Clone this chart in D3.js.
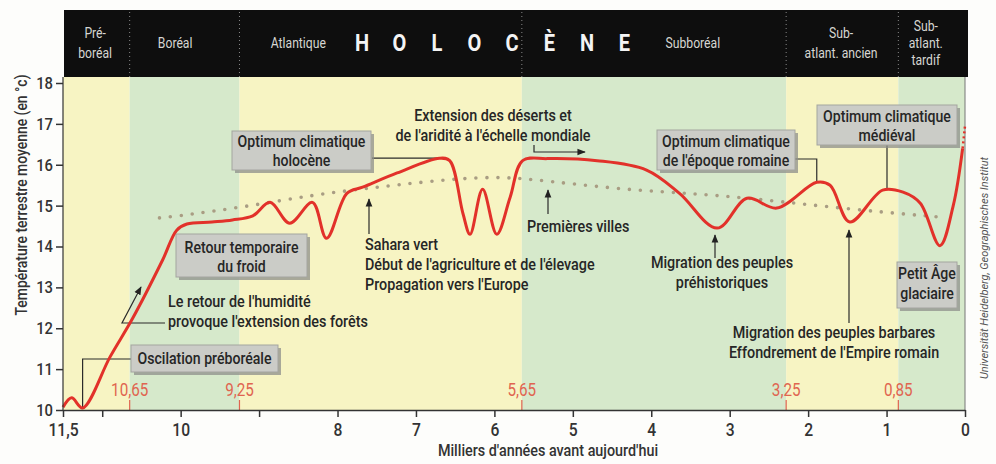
<!DOCTYPE html>
<html>
<head>
<meta charset="utf-8">
<script src="https://cdn.jsdelivr.net/npm/d3@7"></script>
<style>
  body { margin: 0; background: #fdfdfb; }
  text { font-family: 'Roboto', sans-serif; }
</style>
</head>
<body>
<script>
// temperature curve (thousand years BP / °C)
const years = [11.5, 11.39, 11.25, 10.9, 10.61, 10.23, 10.05, 9.92, 9.6, 9.34, 9.08, 8.86, 8.61, 8.32, 8.14, 7.88, 7.68, 7.24, 6.70, 6.57, 6.40, 6.31, 6.15, 5.97, 5.80, 5.64, 5.33, 4.69, 4.06, 3.64, 3.16, 2.78, 2.40, 1.89, 1.72, 1.47, 1.05, 0.79, 0.57, 0.32, 0.15, 0.03]
const temps = [10.07, 10.3, 10.05, 11.3, 12.25, 13.67, 14.4, 14.55, 14.6, 14.65, 14.75, 15.08, 14.57, 15.08, 14.2, 15.3, 15.45, 15.8, 16.16, 16.1, 14.8, 14.3, 15.4, 14.3, 15.2, 16.1, 16.15, 16.1, 15.87, 15.3, 14.45, 15.18, 14.94, 15.57, 15.5, 14.6, 15.38, 15.33, 15.06, 14.02, 15.0, 16.4]
// dotted extension to today
const endYears = [0.03, 0]
const endTemps = [16.4, 16.95]

// long term trend (dotted)
const trendYears = [10.27, 10.05, 9.08, 8.32, 7.59, 6.82, 5.97, 5.33, 4.27, 3.5, 2.74, 1.89, 1.05, 0.32]
const trendTemps = [14.7, 14.74, 15.0, 15.26, 15.43, 15.6, 15.73, 15.6, 15.38, 15.3, 15.18, 15.0, 14.84, 14.72]

// chronozones
const phaseBounds = [11.5, 10.65, 9.25, 5.65, 2.28, 0.85, 0]
const phaseNames = [["Pré-", "boréal"], ["Boréal"], ["Atlantique"], ["Subboréal"], ["Sub-", "atlant. ancien"], ["Sub-", "atlant.", "tardif"]]
const phaseLabelAt = [11.09, 10.07, 8.5, 3.47, 1.58, 0.5]
const boundLabels = ["10,65", "9,25", "5,65", "3,25", "0,85"]

// axes
const xTicks = [11.5, 11, 10, 9, 8, 7, 6, 5, 4, 3, 2, 1, 0]
const xTickLabels = ["11,5", "", "10", "", "8", "7", "6", "5", "4", "3", "2", "1", "0"]
const yTicks = [10, 11, 12, 13, 14, 15, 16, 17, 18]

const W = 996, H = 464
const SX = 0.87   // condensed look
const svg = d3.select("body").append("svg").attr("width", W).attr("height", H)

const x = d3.scaleLinear().domain([11.5, 0]).range([63, 965])
const y = d3.scaleLinear().domain([10, 18]).range([410, 83])
const plotTop = 77

// arrow marker
svg.append("defs").append("marker")
    .attr("id", "arr").attr("viewBox", "0 0 10 10")
    .attr("refX", 9).attr("refY", 5)
    .attr("markerWidth", 7).attr("markerHeight", 7)
    .attr("orient", "auto-start-reverse")
    .append("path").attr("d", "M0,1 L10,5 L0,9 Z").attr("fill", "#222")

// background bands
const bandColors = ["#f7f4c3", "#d6e9cb"]
svg.selectAll(".band")
    .data(phaseNames)
    .enter().append("rect")
    .attr("x", (d, i) => x(phaseBounds[i]))
    .attr("width", (d, i) => x(phaseBounds[i + 1]) - x(phaseBounds[i]))
    .attr("y", plotTop)
    .attr("height", y(10) - plotTop)
    .attr("fill", (d, i) => bandColors[i % 2])

// header
svg.append("rect").attr("x", 64).attr("y", 10).attr("width", 904).attr("height", plotTop - 10).attr("fill", "#0e0e0e")
svg.selectAll(".sep")
    .data(phaseBounds.slice(1, -1))
    .enter().append("line")
    .attr("x1", d => x(d)).attr("x2", d => x(d))
    .attr("y1", 12).attr("y2", plotTop)
    .attr("stroke", "#888").attr("stroke-dasharray", "1,3")

phaseNames.forEach((lines, i) => {
    const n = lines.length
    const lh = n == 3 ? 17 : 20
    lines.forEach((l, j) => {
        svg.append("text")
            .attr("x", x(phaseLabelAt[i]))
            .attr("y", 48 + (j - (n - 1) / 2) * lh)
            .attr("text-anchor", "middle")
            .attr("font-size", 14)
            .attr("fill", "#d6d6d2")
            .text(l)
    })
})

"HOLOCÈNE".split("").forEach((c, i) => {
    svg.append("text")
        .attr("x", 362 + i * 37.5).attr("y", 51)
        .attr("text-anchor", "middle")
        .attr("font-size", 23).attr("font-weight", "bold")
        .attr("fill", "#f4f4f4")
        .text(c)
})

// right border
svg.append("line").attr("x1", x(0)).attr("x2", x(0)).attr("y1", plotTop).attr("y2", y(10))
    .attr("stroke", "#777").attr("stroke-width", 1)

// trend
svg.append("path")
    .datum(trendYears.map((d, i) => [d, trendTemps[i]]))
    .attr("d", d3.line().x(d => x(d[0])).y(d => y(d[1])).curve(d3.curveBasis))
    .attr("fill", "none")
    .attr("stroke", "#a99d83")
    .attr("stroke-width", 3.6)
    .attr("stroke-linecap", "round")
    .attr("stroke-dasharray", "0,11")

// boundary markers
svg.selectAll(".bl")
    .data(boundLabels)
    .enter().append("text")
    .attr("x", (d, i) => x(phaseBounds[i + 1]))
    .attr("y", 396)
    .attr("text-anchor", "middle")
    .attr("font-size", 17.5)
    .attr("fill", "#e06450")
    .text(d => d)
svg.selectAll(".bt")
    .data(boundLabels)
    .enter().append("line")
    .attr("x1", (d, i) => x(phaseBounds[i + 1])).attr("x2", (d, i) => x(phaseBounds[i + 1]))
    .attr("y1", 400).attr("y2", 410)
    .attr("stroke", "#e06450").attr("stroke-width", 1.2)

// annotations --------------------------------------------------------------
function box(x0, y0, w, h, lines, baselines) {
    svg.append("rect").attr("x", x0 + 3).attr("y", y0 + 3).attr("width", w).attr("height", h).attr("fill", "#8e8f8b").attr("opacity", 0.75)
    svg.append("rect").attr("x", x0).attr("y", y0).attr("width", w).attr("height", h)
        .attr("fill", "#cbccc7").attr("stroke", "#a4a5a0").attr("stroke-width", 1)
    lines.forEach((l, j) => {
        svg.append("text").attr("x", x0 + w / 2).attr("y", baselines[j])
            .attr("text-anchor", "middle").attr("font-size", 16.2).attr("font-weight", 500)
            .attr("fill", "#262626").text(l)
    })
}
function label(x0, lines, baselines, anchor) {
    lines.forEach((l, j) => {
        svg.append("text").attr("x", x0).attr("y", baselines[j])
            .attr("text-anchor", anchor).attr("font-size", 16.5).attr("font-weight", 500)
            .attr("fill", "#262626").text(l)
    })
}
function path(pts, arrow) {
    const p = svg.append("path").attr("d", d3.line()(pts))
        .attr("fill", "none").attr("stroke", "#2b2b2b").attr("stroke-width", 1.2)
    if (arrow) p.attr("marker-end", "url(#arr)")
}

// connectors
path([[372, y(16.16)], [x(6.7), y(16.16)]])
path([[131, 359], [x(11.25), 359], [x(11.25), y(10.05)]])
path([[795, 159], [x(1.89), 159], [x(1.89), y(15.57)]])
path([[887, 145], [887, y(15.4)]])
path([[534, 145], [534, 152], [585, 152]], true)
path([[369, 234], [369, 199]], true)
path([[548, 214], [548, 190]], true)
path([[715, 258], [715, 235]], true)
path([[849, 323], [849, 230]], true)
path([[165, 323], [122, 323], [141, 287]], true)

box(232, 131, 139, 39, ["Optimum climatique", "holocène"], [147, 166])
box(176, 234, 131, 43, ["Retour temporaire", "du froid"], [253, 272])
box(131, 345, 147, 27, ["Oscilation préboréale"], [364])
box(657, 130, 138, 40, ["Optimum climatique", "de l'époque romaine"], [147, 166])
box(817, 105, 140, 40, ["Optimum climatique", "médiéval"], [122, 141])
box(897, 262, 60, 46, ["Petit Âge", "glaciaire"], [279, 299])

label(493, ["Extension des déserts et", "de l'aridité à l'échelle mondiale"], [121, 141], "middle")
label(365, ["Sahara vert", "Début de l'agriculture et de l'élevage", "Propagation vers l'Europe"], [250, 270, 290], "start")
label(527, ["Premières villes"], [232], "start")
label(722, ["Migration des peuples", "préhistoriques"], [268, 288], "middle")
label(834, ["Migration des peuples barbares", "Effondrement de l'Empire romain"], [338, 358], "middle")
label(168, ["Le retour de l'humidité", "provoque l'extension des forêts"], [307, 327], "start")

// main curve
svg.append("path")
    .datum(years.map((d, i) => [d, temps[i]]))
    .attr("d", d3.line().x(d => x(d[0])).y(d => y(d[1])).curve(d3.curveCatmullRom.alpha(0.5)))
    .attr("fill", "none")
    .attr("stroke", "#e2312a")
    .attr("stroke-width", 3)
    .attr("stroke-linejoin", "round")
svg.append("path")
    .datum(endYears.map((d, i) => [d, endTemps[i]]))
    .attr("d", d3.line().x(d => x(d[0])).y(d => y(d[1])))
    .attr("fill", "none")
    .attr("stroke", "#e2312a")
    .attr("stroke-width", 2.5)
    .attr("stroke-dasharray", "2,3")

// axes
const xAxis = svg.append("g")
    .attr("transform", "translate(0," + y(10) + ")")
    .call(d3.axisBottom(x).tickValues(xTicks).tickFormat((d, i) => xTickLabels[i]).tickSize(7).tickSizeOuter(0))
xAxis.selectAll("text").attr("font-size", 18).attr("font-weight", 500).attr("fill", "#333").attr("dy", "0.9em")
xAxis.selectAll("line").attr("stroke", "#333").attr("stroke-width", 1.5)
xAxis.select(".domain").attr("stroke", "#333").attr("stroke-width", 1.5)

const yAxis = svg.append("g")
    .attr("transform", "translate(" + x(11.5) + ",0)")
    .call(d3.axisLeft(y).tickValues(yTicks).tickSize(7).tickSizeOuter(0))
yAxis.selectAll("text").attr("font-size", 17).attr("font-weight", 500).attr("fill", "#333")
yAxis.selectAll("line").attr("stroke", "#333").attr("stroke-width", 1.5)
yAxis.select(".domain").attr("stroke", "#333").attr("stroke-width", 1.2).attr("d", "M0," + plotTop + "V" + y(10))

svg.append("text")
    .attr("transform", "translate(" + 548 + "," + 456 + ")")
    .attr("text-anchor", "middle").attr("font-size", 16.5).attr("font-weight", 500).attr("fill", "#333")
    .text("Milliers d'années avant aujourd'hui")

svg.append("text")
    .attr("transform", "translate(27," + 195 + ") rotate(-90)")
    .attr("text-anchor", "middle").attr("font-size", 16).attr("font-weight", 500).attr("fill", "#333")
    .text("Température terrestre moyenne (en °c)")

// condense every text (narrow face like the print)
svg.selectAll("text").each(function () {
    const t = d3.select(this)
    const tx = +t.attr("x") || 0, ty = +t.attr("y") || 0
    const tr = t.attr("transform") || ""
    t.attr("x", 0).attr("y", 0).attr("transform", tr + " translate(" + tx + "," + ty + ") scale(" + SX + ",1)")
})

svg.append("text")
    .attr("transform", "translate(988," + 268 + ") rotate(-90)")
    .attr("text-anchor", "middle").attr("font-size", 11).attr("font-style", "italic").attr("fill", "#555")
    .text("Universität Heidelberg, Geographisches Institut")
</script>
</body>
</html>
